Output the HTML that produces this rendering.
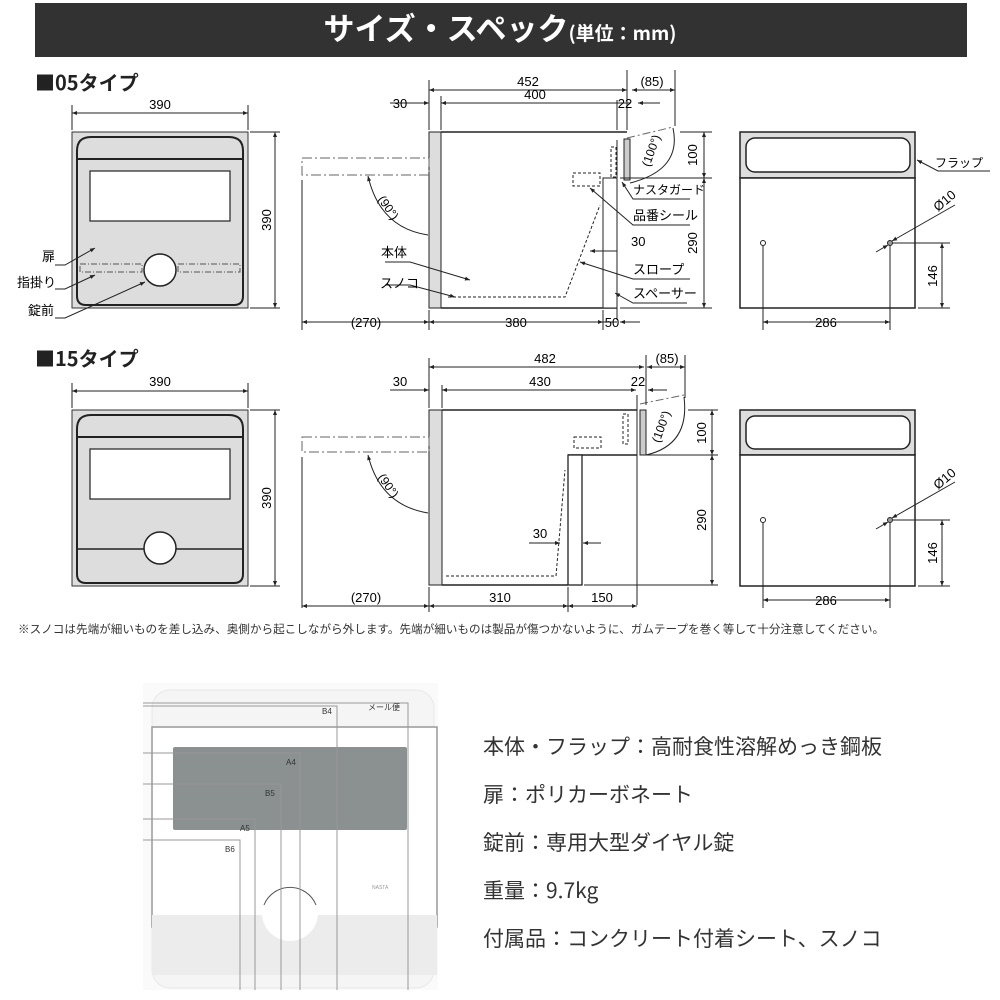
<!DOCTYPE html>
<html><head><meta charset="utf-8"><style>
html,body{margin:0;padding:0;background:#fff;}
svg{display:block;font-family:"Liberation Sans","Noto Sans CJK JP",sans-serif;}
</style></head><body>
<svg width="1000" height="1000" viewBox="0 0 1000 1000" xmlns="http://www.w3.org/2000/svg">
<defs>
<marker id="a" viewBox="0 0 10 10" refX="10" refY="5" markerWidth="7" markerHeight="5" orient="auto-start-reverse"><path d="M0,1L10,5L0,9z" fill="#222"/></marker>
</defs>
<rect x="35" y="3" width="932" height="54" fill="#323232"/>
<text x="500" y="40" text-anchor="middle" fill="#fff" font-weight="bold" font-size="31" font-family="Noto Sans CJK JP, sans-serif">サイズ・スペック<tspan font-size="19">(単位：mm)</tspan></text>

<g id="t05">
<text x="35" y="90" font-size="20" font-weight="bold" fill="#222" font-family="Noto Sans CJK JP, sans-serif">■05タイプ</text>
<rect x="72" y="132" width="176" height="176" fill="#ddd" stroke="#333" stroke-width="1"/>
<path d="M77,296V151Q77,137 91,137H229Q243,137 243,151V296Q243,305 234,305H86Q77,305 77,296Z" fill="#ddd" stroke="#222" stroke-width="2"/>
<line x1="77" y1="159" x2="243" y2="159" stroke="#222" stroke-width="2"/>
<rect x="90" y="171" width="140" height="50" fill="#fff" stroke="#222" stroke-width="1.2"/>
<rect x="80" y="264" width="62" height="8" fill="none" stroke="#555" stroke-dasharray="6 2 1 2"/>
<rect x="178" y="264" width="62" height="8" fill="none" stroke="#555" stroke-dasharray="6 2 1 2"/>
<circle cx="160" cy="270" r="16" fill="#fff" stroke="#222" stroke-width="1.5"/>
<g stroke="#222" stroke-width="1" fill="none">
<line x1="72" y1="113" x2="248" y2="113" marker-start="url(#a)" marker-end="url(#a)"/>
<line x1="72" y1="105" x2="72" y2="130"/><line x1="248" y1="105" x2="248" y2="130"/>
<line x1="275" y1="132" x2="275" y2="308" marker-start="url(#a)" marker-end="url(#a)"/>
<line x1="250" y1="132" x2="280" y2="132"/><line x1="250" y1="308" x2="280" y2="308"/>
<polyline points="55,265 65,265 95,248" marker-end="url(#a)"/>
<polyline points="55,289 65,289 95,275" marker-end="url(#a)"/>
<polyline points="55,318 65,318 145,282" marker-end="url(#a)"/>
</g>
<text x="160" y="109" font-size="13" text-anchor="middle">390</text>
<text transform="translate(271,220) rotate(-90)" font-size="13" text-anchor="middle">390</text>
<text x="42" y="261" font-size="13">扉</text>
<text x="17" y="287" font-size="13">指掛り</text>
<text x="28" y="315" font-size="13">錠前</text>
<rect x="429" y="132" width="12" height="176" fill="#ddd" stroke="#222"/>
<g stroke="#222" fill="none">
<line x1="441" y1="132" x2="627" y2="132" stroke-width="1.5"/>
<line x1="441" y1="308" x2="617" y2="308" stroke-width="1.5"/>
<line x1="617" y1="140" x2="617" y2="320" stroke-width="1"/>
<rect x="603" y="178" width="14" height="130" fill="#fff"/>
<rect x="624" y="139" width="6" height="41" fill="#ccc"/>
<rect x="611" y="147" width="5" height="30" stroke-dasharray="3 2"/>
<rect x="573" y="173" width="27" height="13" stroke-dasharray="3 2"/>
<path d="M448,297H565L600,205" stroke-dasharray="3 2"/>
<rect x="302" y="158" width="127" height="17" stroke="#666" stroke-dasharray="10 3 2 3"/>
<path d="M627,138L673,127" stroke="#666" stroke-dasharray="8 3 2 3"/>
<path d="M673,128Q682,170 630,183"/>
<path d="M368,176Q380,228 428,235" marker-start="url(#a)"/>
<line x1="302" y1="180" x2="302" y2="330"/>
<line x1="429" y1="80" x2="429" y2="130"/>
<line x1="441" y1="96" x2="441" y2="130"/>
<line x1="627" y1="70" x2="627" y2="130"/>
<line x1="675" y1="70" x2="675" y2="126"/>
<line x1="429" y1="90" x2="627" y2="90" marker-start="url(#a)" marker-end="url(#a)"/>
<line x1="632" y1="90" x2="675" y2="90" marker-start="url(#a)" marker-end="url(#a)"/>
<line x1="441" y1="103" x2="617" y2="103" marker-start="url(#a)"/>
<line x1="390" y1="103" x2="429" y2="103" marker-end="url(#a)"/>
<line x1="617" y1="103" x2="630" y2="103"/>
<line x1="660" y1="103" x2="638" y2="103" marker-end="url(#a)"/>
<line x1="617" y1="100" x2="617" y2="130"/>
<line x1="302" y1="322" x2="429" y2="322" marker-start="url(#a)" marker-end="url(#a)"/>
<line x1="429" y1="322" x2="603" y2="322" marker-start="url(#a)" marker-end="url(#a)"/>
<line x1="603" y1="322" x2="617" y2="322"/>
<line x1="640" y1="322" x2="620" y2="322" marker-end="url(#a)"/>
<line x1="603" y1="310" x2="603" y2="330"/>
<line x1="429" y1="310" x2="429" y2="330"/>
<line x1="704" y1="132" x2="704" y2="178" marker-start="url(#a)" marker-end="url(#a)"/>
<line x1="704" y1="178" x2="704" y2="308" marker-start="url(#a)" marker-end="url(#a)"/>
<line x1="680" y1="132" x2="712" y2="132"/><line x1="620" y1="178" x2="712" y2="178"/><line x1="620" y1="308" x2="712" y2="308"/>
<polyline points="690,199 633,199 622,182" marker-end="url(#a)"/>
<polyline points="690,225 633,225 590,188" marker-end="url(#a)"/>
<line x1="590" y1="251" x2="617" y2="251" marker-start="url(#a)"/>
<polyline points="687,303 633,303 615,293" marker-end="url(#a)"/>
<polyline points="690,279 633,279 580,262" marker-end="url(#a)"/>
<polyline points="385,262 410,262 470,280" marker-end="url(#a)"/>
<polyline points="385,285 410,285 455,297" marker-end="url(#a)"/>
</g>
<text x="380" y="288" font-size="13">スノコ</text>
<text x="381" y="257" font-size="13">本体</text>
<text transform="translate(385,210) rotate(55)" font-size="12" text-anchor="middle">(90°)</text>
<text transform="translate(655,152) rotate(-70)" font-size="12" text-anchor="middle">(100°)</text>
<text x="528" y="86" font-size="13" text-anchor="middle">452</text>
<text x="652" y="86" font-size="13" text-anchor="middle">(85)</text>
<text x="535" y="99" font-size="13" text-anchor="middle">400</text>
<text x="625" y="108" font-size="13" text-anchor="middle">22</text>
<text x="400" y="108" font-size="13" text-anchor="middle">30</text>
<text x="366" y="327" font-size="13" text-anchor="middle">(270)</text>
<text x="516" y="327" font-size="13" text-anchor="middle">380</text>
<text x="612" y="327" font-size="13" text-anchor="middle">50</text>
<text x="631" y="246" font-size="13">30</text>
<text transform="translate(697,155) rotate(-90)" font-size="13" text-anchor="middle">100</text>
<text transform="translate(697,243) rotate(-90)" font-size="13" text-anchor="middle">290</text>
<text x="633" y="194" font-size="12">ナスタガード</text>
<text x="633" y="220" font-size="13">品番シール</text>
<text x="633" y="274" font-size="13">スロープ</text>
<text x="633" y="298" font-size="13">スペーサー</text>
</g>

<g id="r05">
<rect x="740" y="132" width="175" height="46" fill="#ddd" stroke="#222" stroke-width="1.5"/>
<rect x="746" y="138" width="164" height="34" rx="9" fill="#fff" stroke="#222" stroke-width="1.5"/>
<rect x="740" y="178" width="175" height="130" fill="#fff" stroke="#222" stroke-width="1.5"/>
<circle cx="763" cy="243" r="2.5" fill="#fff" stroke="#222"/>
<circle cx="890" cy="243" r="2.5" fill="#999" stroke="#222"/>
<g stroke="#222" fill="none">
<line x1="763" y1="246" x2="763" y2="330"/><line x1="890" y1="246" x2="890" y2="330"/>
<line x1="763" y1="322" x2="890" y2="322" marker-start="url(#a)" marker-end="url(#a)"/>
<line x1="893" y1="243" x2="950" y2="243"/><line x1="918" y1="308" x2="950" y2="308"/>
<line x1="942" y1="243" x2="942" y2="308" marker-start="url(#a)" marker-end="url(#a)"/>
<line x1="955" y1="205" x2="892" y2="241" marker-end="url(#a)"/>
<line x1="876" y1="252" x2="888" y2="245" marker-end="url(#a)"/>
<polyline points="990,171 938,171 917,160" marker-end="url(#a)"/>
</g>
<text x="826" y="327" font-size="13" text-anchor="middle">286</text>
<text transform="translate(937,276) rotate(-90)" font-size="13" text-anchor="middle">146</text>
<text transform="translate(938,212) rotate(-40)" font-size="13">Ø10</text>
<text x="935" y="167" font-size="12">フラップ</text>
</g>

<g id="t15">
<text x="35" y="366" font-size="20" font-weight="bold" fill="#222" font-family="Noto Sans CJK JP, sans-serif">■15タイプ</text>
<rect x="72" y="410" width="176" height="176" fill="#ddd" stroke="#333"/>
<path d="M77,574V429Q77,415 91,415H229Q243,415 243,429V574Q243,583 234,583H86Q77,583 77,574Z" fill="#ddd" stroke="#222" stroke-width="2"/>
<line x1="77" y1="437" x2="243" y2="437" stroke="#222" stroke-width="2"/>
<rect x="90" y="449" width="140" height="50" fill="#fff" stroke="#222" stroke-width="1.2"/>
<line x1="77" y1="549" x2="243" y2="549" stroke="#222" stroke-width="1.5"/>
<circle cx="160" cy="548" r="16" fill="#fff" stroke="#222" stroke-width="1.5"/>
<g stroke="#222" fill="none">
<line x1="72" y1="391" x2="248" y2="391" marker-start="url(#a)" marker-end="url(#a)"/>
<line x1="72" y1="383" x2="72" y2="408"/><line x1="248" y1="383" x2="248" y2="408"/>
<line x1="275" y1="410" x2="275" y2="586" marker-start="url(#a)" marker-end="url(#a)"/>
<line x1="250" y1="410" x2="280" y2="410"/><line x1="250" y1="586" x2="280" y2="586"/>
</g>
<text x="160" y="386" font-size="13" text-anchor="middle">390</text>
<text transform="translate(271,498) rotate(-90)" font-size="13" text-anchor="middle">390</text>

<rect x="429" y="410" width="13" height="175" fill="#ddd" stroke="#222"/>
<g stroke="#222" fill="none">
<line x1="442" y1="410" x2="637" y2="410" stroke-width="1.5"/>
<line x1="442" y1="585" x2="568" y2="585" stroke-width="1.5"/>
<line x1="568" y1="455" x2="637" y2="455" stroke-width="1.5"/>
<line x1="637" y1="395" x2="637" y2="605"/>
<rect x="568" y="455" width="14" height="130" fill="#fff" stroke-width="1.3"/>
<rect x="640" y="410" width="6" height="45" fill="#ccc"/>
<rect x="623" y="414" width="5" height="30" stroke-dasharray="3 2"/>
<rect x="574" y="437" width="27" height="11" stroke-dasharray="3 2"/>
<path d="M446,576H556L565,470" stroke-dasharray="3 2"/>
<rect x="302" y="437" width="127" height="15" stroke="#666" stroke-dasharray="10 3 2 3"/>
<path d="M640,404L684,395" stroke="#666" stroke-dasharray="8 3 2 3"/>
<path d="M684,397Q690,445 646,455"/>
<path d="M368,455Q380,505 428,513" marker-start="url(#a)"/>
<line x1="302" y1="457" x2="302" y2="608"/>
<line x1="429" y1="358" x2="429" y2="408"/>
<line x1="442" y1="385" x2="442" y2="408"/>
<line x1="646" y1="355" x2="646" y2="405"/>
<line x1="685" y1="355" x2="685" y2="398"/>
<line x1="429" y1="367" x2="644" y2="367" marker-start="url(#a)" marker-end="url(#a)"/>
<line x1="647" y1="367" x2="685" y2="367" marker-start="url(#a)" marker-end="url(#a)"/>
<line x1="442" y1="390" x2="636" y2="390" marker-start="url(#a)" marker-end="url(#a)"/>
<line x1="390" y1="390" x2="429" y2="390" marker-end="url(#a)"/>
<line x1="667" y1="390" x2="648" y2="390" marker-end="url(#a)"/>
<line x1="302" y1="606" x2="429" y2="606" marker-start="url(#a)" marker-end="url(#a)"/>
<line x1="429" y1="606" x2="568" y2="606" marker-start="url(#a)" marker-end="url(#a)"/>
<line x1="568" y1="606" x2="637" y2="606" marker-start="url(#a)" marker-end="url(#a)"/>
<line x1="568" y1="587" x2="568" y2="612"/><line x1="429" y1="587" x2="429" y2="612"/>
<line x1="712" y1="410" x2="712" y2="455" marker-start="url(#a)" marker-end="url(#a)"/>
<line x1="712" y1="455" x2="712" y2="585" marker-start="url(#a)" marker-end="url(#a)"/>
<line x1="688" y1="410" x2="718" y2="410"/><line x1="640" y1="455" x2="718" y2="455"/><line x1="584" y1="585" x2="718" y2="585"/>
<line x1="529" y1="543" x2="560" y2="543" marker-end="url(#a)"/>
<line x1="601" y1="543" x2="583" y2="543" marker-end="url(#a)"/>
</g>
<text x="540" y="538" font-size="13" text-anchor="middle">30</text>
<text transform="translate(385,488) rotate(55)" font-size="12" text-anchor="middle">(90°)</text>
<text transform="translate(665,428) rotate(-70)" font-size="12" text-anchor="middle">(100°)</text>
<text x="545" y="363" font-size="13" text-anchor="middle">482</text>
<text x="667" y="363" font-size="13" text-anchor="middle">(85)</text>
<text x="540" y="386" font-size="13" text-anchor="middle">430</text>
<text x="638" y="386" font-size="13" text-anchor="middle">22</text>
<text x="400" y="386" font-size="13" text-anchor="middle">30</text>
<text x="366" y="602" font-size="13" text-anchor="middle">(270)</text>
<text x="500" y="602" font-size="13" text-anchor="middle">310</text>
<text x="602" y="602" font-size="13" text-anchor="middle">150</text>
<text transform="translate(706,433) rotate(-90)" font-size="13" text-anchor="middle">100</text>
<text transform="translate(706,520) rotate(-90)" font-size="13" text-anchor="middle">290</text>

<rect x="740" y="410" width="175" height="45" fill="#ddd" stroke="#222" stroke-width="1.5"/>
<rect x="746" y="416" width="164" height="33" rx="9" fill="#fff" stroke="#222" stroke-width="1.5"/>
<rect x="740" y="455" width="175" height="131" fill="#fff" stroke="#222" stroke-width="1.5"/>
<circle cx="763" cy="520" r="2.5" fill="#fff" stroke="#222"/>
<circle cx="890" cy="520" r="2.5" fill="#999" stroke="#222"/>
<g stroke="#222" fill="none">
<line x1="763" y1="523" x2="763" y2="608"/><line x1="890" y1="523" x2="890" y2="608"/>
<line x1="763" y1="600" x2="890" y2="600" marker-start="url(#a)" marker-end="url(#a)"/>
<line x1="893" y1="520" x2="950" y2="520"/><line x1="918" y1="586" x2="950" y2="586"/>
<line x1="942" y1="520" x2="942" y2="586" marker-start="url(#a)" marker-end="url(#a)"/>
<line x1="955" y1="482" x2="892" y2="518" marker-end="url(#a)"/>
<line x1="876" y1="529" x2="888" y2="522" marker-end="url(#a)"/>
</g>
<text x="826" y="605" font-size="13" text-anchor="middle">286</text>
<text transform="translate(937,553) rotate(-90)" font-size="13" text-anchor="middle">146</text>
<text transform="translate(938,490) rotate(-40)" font-size="13">Ø10</text>
</g>

<text x="18" y="633" font-size="11.6" fill="#333">※スノコは先端が細いものを差し込み、奥側から起こしながら外します。先端が細いものは製品が傷つかないように、ガムテープを巻く等して十分注意してください。</text>

<g id="photo">
<rect x="143" y="683" width="295" height="307" fill="#fafafa"/>
<rect x="152" y="690" width="282" height="298" rx="18" fill="#f5f5f5" stroke="#e8e8e8"/>
<rect x="152" y="727" width="285" height="200" fill="#fff" stroke="#999" stroke-width="1.5"/>
<rect x="152" y="915" width="285" height="60" fill="#ececec"/>
<rect x="173" y="747" width="234" height="83" rx="2" fill="#8b9090"/>
<circle cx="290" cy="913" r="28" fill="#fff"/>
<path d="M264,905A28,28 0 0 1 316,905" fill="none" stroke="#555"/>
<text x="372" y="889" font-size="5" fill="#999">NASTA</text>
<g stroke="#999" fill="none" stroke-width="1">
<path d="M143,703H408V990"/>
<path d="M143,706H337V990"/>
<path d="M143,753H300V990"/>
<path d="M143,784H281V990"/>
<path d="M143,819H255V990"/>
<path d="M143,840H240V990"/>
</g>
<text x="368" y="710" font-size="8" fill="#333">メール便</text>
<text x="322" y="714" font-size="8" fill="#333">B4</text>
<text x="286" y="765" font-size="8" fill="#333">A4</text>
<text x="265" y="796" font-size="8" fill="#333">B5</text>
<text x="240" y="831" font-size="8" fill="#333">A5</text>
<text x="225" y="852" font-size="8" fill="#333">B6</text>
</g>

<g font-size="21" fill="#333" font-family="Noto Sans CJK JP, sans-serif">
<text x="483" y="754">本体・フラップ：高耐食性溶解めっき鋼板</text>
<text x="483" y="802">扉：ポリカーボネート</text>
<text x="483" y="850">錠前：専用大型ダイヤル錠</text>
<text x="483" y="898">重量：9.7kg</text>
<text x="483" y="946">付属品：コンクリート付着シート、スノコ</text>
</g>
</svg>
</body></html>
